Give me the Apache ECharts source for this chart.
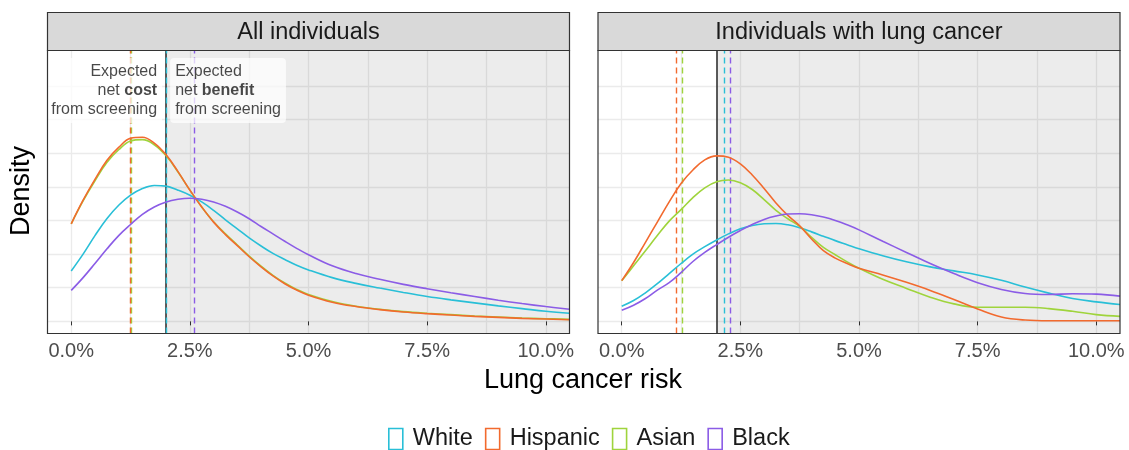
<!DOCTYPE html>
<html><head><meta charset="utf-8">
<script src="https://cdn.jsdelivr.net/npm/echarts@6/dist/echarts.min.js"></script>
<style>html,body{margin:0;padding:0;background:#fff}#c{width:1129px;height:450px}</style>
</head><body><div id="c"></div>
<script>
// ---- data ----
const panels = ['All individuals', 'Individuals with lung cancer'];
const groups = ['White', 'Hispanic', 'Asian', 'Black'];
const colors = ['#29bfd7', '#f26a2e', '#9fd43c', '#8b5ce6'];
const X = [0,0.25,0.5,0.75,1,1.25,1.5,1.75,2,2.25,2.5,2.75,3,3.25,3.5,3.75,4,4.25,4.5,4.75,5,5.5,6,6.5,7,7.5,8,8.5,9,9.5,10,10.5];
const allWhite    = [1.5,2.0,2.55,3.05,3.45,3.75,3.95,4.04,4.02,3.9,3.75,3.55,3.3,3.02,2.75,2.48,2.24,2.02,1.84,1.67,1.53,1.3,1.13,0.99,0.86,0.74,0.64,0.55,0.46,0.38,0.3,0.24];
const allHispanic = [2.9,3.6,4.22,4.78,5.17,5.44,5.47,5.3,4.95,4.45,3.9,3.4,2.95,2.58,2.25,1.92,1.62,1.35,1.12,0.93,0.78,0.57,0.44,0.35,0.28,0.23,0.19,0.15,0.12,0.09,0.07,0.05];
const allAsian    = [2.9,3.58,4.18,4.72,5.1,5.36,5.4,5.25,4.92,4.44,3.9,3.4,2.96,2.6,2.27,1.94,1.64,1.37,1.14,0.95,0.8,0.59,0.45,0.36,0.29,0.24,0.2,0.16,0.13,0.1,0.08,0.06];
const allBlack    = [0.92,1.3,1.72,2.15,2.55,2.88,3.18,3.4,3.55,3.63,3.66,3.63,3.55,3.42,3.25,3.05,2.82,2.6,2.38,2.17,1.98,1.65,1.42,1.25,1.1,0.97,0.85,0.74,0.63,0.53,0.44,0.36];
const lungWhite    = [0.45,0.62,0.85,1.12,1.42,1.72,2.0,2.22,2.42,2.6,2.75,2.85,2.9,2.91,2.87,2.78,2.66,2.53,2.4,2.28,2.16,1.95,1.77,1.62,1.5,1.38,1.22,1.02,0.84,0.68,0.58,0.5];
const lungHispanic = [1.21,1.75,2.35,2.95,3.55,4.1,4.5,4.8,4.92,4.88,4.68,4.35,3.95,3.52,3.15,2.84,2.45,2.1,1.88,1.72,1.58,1.38,1.16,0.92,0.65,0.37,0.13,0.04,0.02,0.02,0.02,0.02];
const lungAsian    = [1.21,1.65,2.1,2.55,2.98,3.32,3.68,3.97,4.15,4.2,4.12,3.92,3.62,3.3,3.05,2.82,2.5,2.2,1.98,1.77,1.58,1.25,0.98,0.72,0.52,0.42,0.42,0.42,0.38,0.3,0.2,0.15];
const lungBlack    = [0.33,0.48,0.68,0.93,1.15,1.45,1.78,2.05,2.28,2.5,2.7,2.88,3.03,3.13,3.19,3.2,3.17,3.1,3.0,2.87,2.72,2.38,2.05,1.72,1.42,1.15,0.95,0.83,0.8,0.82,0.81,0.75];
const allMeans  = [2.0, 1.25, 1.26, 2.59];
const lungMeans = [2.16, 1.14, 1.27, 2.29];
const threshold = 2.0;
const xTicks = [0, 2.5, 5, 7.5, 10];
const xTickLabels = ['0.0%', '2.5%', '5.0%', '7.5%', '10.0%'];
const xGridVals = [0, 1.25, 2.5, 3.75, 5, 6.25, 7.5, 8.75, 10];
const yGridVals = [0, 1, 2, 3, 4, 5, 6, 7];

const curves = [[allWhite, allHispanic, allAsian, allBlack], [lungWhite, lungHispanic, lungAsian, lungBlack]];
const means = [allMeans, lungMeans];

// ---- layout ----
const P = [{left: 47.5, width: 522}, {left: 598, width: 522}];
const TOP = 50.5, H = 283, STRIP_TOP = 12.5;
const FONT = '"Liberation Sans", Arial, Helvetica, sans-serif';

const chart = echarts.init(document.getElementById('c'), null, {renderer: 'canvas'});
const grids = [], xAxes = [], yAxes = [], series = [], graphics = [];
const noLine = {show: false};

P.forEach((p, g) => {
  grids.push({left: p.left, top: TOP, width: p.width, height: H, show: true, backgroundColor: '#fff', borderWidth: 0});
  xAxes.push({type: 'value', gridIndex: g, min: -0.5, max: 10.5,
    axisLine: {show: false}, splitLine: {show: false},
    axisTick: {show: true, customValues: xTicks, length: 4, lineStyle: {color: '#333', width: 1}},
    axisLabel: {show: true, customValues: xTicks, margin: 8, color: '#4d4d4d', fontSize: 20, fontFamily: FONT,
      formatter: v => xTickLabels[xTicks.indexOf(v)] || ''}});
  yAxes.push({type: 'value', gridIndex: g, min: -0.36, max: 8.05, show: false, splitLine: {show: false}});
  // gridlines
  series.push({type: 'line', xAxisIndex: g, yAxisIndex: g, data: [], z: 0, silent: true,
    markLine: {z: 0, silent: true, symbol: ['none', 'none'], animation: false, label: noLine, emphasis: {disabled: true},
      lineStyle: {color: '#ebebeb', width: 1.3, type: 'solid'},
      data: xGridVals.map(v => ({xAxis: v})).concat(yGridVals.map(v => ({yAxis: v})))}});
  // shaded benefit region
  series.push({type: 'line', xAxisIndex: g, yAxisIndex: g, data: [], z: 1, silent: true,
    markArea: {z: 1, silent: true, animation: false, itemStyle: {color: 'rgba(0,0,0,0.075)'}, emphasis: {disabled: true},
      data: [[{xAxis: threshold}, {xAxis: 10.5}]]}});
  // threshold
  series.push({type: 'line', xAxisIndex: g, yAxisIndex: g, data: [], z: 2, silent: true,
    markLine: {z: 2, silent: true, symbol: ['none', 'none'], animation: false, label: noLine, emphasis: {disabled: true},
      lineStyle: {color: '#333', width: 1.6, type: 'solid'}, data: [{xAxis: threshold}]}});
  // group means (draw order: Asian, Hispanic, Black, White)
  [2, 1, 3, 0].forEach(i => {
    series.push({type: 'line', xAxisIndex: g, yAxisIndex: g, data: [], z: 2, silent: true,
      markLine: {z: 2, silent: true, symbol: ['none', 'none'], animation: false, label: noLine, emphasis: {disabled: true},
        lineStyle: {color: colors[i], width: 1.4, type: [6, 4]}, data: [{xAxis: means[g][i]}]}});
  });
  // density curves
  [0, 2, 1, 3].forEach(i => {
    series.push({type: 'line', name: groups[i], xAxisIndex: g, yAxisIndex: g, z: 3,
      data: X.map((x, k) => [x, curves[g][i][k]]), smooth: 0.4, showSymbol: false, symbol: 'none',
      lineStyle: {color: colors[i], width: 1.6}, itemStyle: {color: colors[i]}, animation: false});
  });
  // strip
  graphics.push({type: 'rect', shape: {x: p.left, y: STRIP_TOP, width: p.width, height: TOP - STRIP_TOP},
    style: {fill: '#d9d9d9', stroke: '#333', lineWidth: 1.2}, z: 10});
  graphics.push({type: 'text', x: p.left + p.width / 2, y: (STRIP_TOP + TOP) / 2 + 1,
    style: {text: panels[g], fill: '#1a1a1a', font: '23.5px ' + FONT, textAlign: 'center', textVerticalAlign: 'middle'}, z: 11});
  // panel border
  graphics.push({type: 'rect', shape: {x: p.left, y: TOP, width: p.width, height: H},
    style: {fill: 'none', stroke: '#333', lineWidth: 1.2}, z: 10});
});

// annotations in first panel
const annotRich = {
  n: {fontSize: 16, fontFamily: FONT, color: '#1a1a1a', lineHeight: 19},
  b: {fontSize: 16, fontFamily: FONT, color: '#1a1a1a', lineHeight: 19, fontWeight: 'bold'}
};
series.push({type: 'scatter', xAxisIndex: 0, yAxisIndex: 0, z: 6, silent: true, symbolSize: 0, animation: false,
  data: [{value: [threshold, 6.86], label: {show: true, position: 'left', distance: 4, align: 'right',
      formatter: '{n|Expected}\n{n|net }{b|cost}\n{n|from screening}', rich: annotRich,
      backgroundColor: 'rgba(255,255,255,0.9)', padding: [4, 5, 4, 5], borderRadius: 4}},
    {value: [threshold, 6.86], label: {show: true, position: 'right', distance: 4, align: 'left',
      formatter: '{n|Expected}\n{n|net }{b|benefit}\n{n|from screening}', rich: annotRich,
      backgroundColor: 'rgba(255,255,255,0.9)', padding: [4, 5, 4, 5], borderRadius: 4}}]});

graphics.push({type: 'text', x: 583, y: 381, style: {text: 'Lung cancer risk', fill: '#000', font: '27px ' + FONT, textAlign: 'center', textVerticalAlign: 'middle'}});
graphics.push({type: 'text', x: 22, y: 191, rotation: Math.PI / 2, style: {text: 'Density', fill: '#000', font: '27px ' + FONT, textAlign: 'center', textVerticalAlign: 'middle'}});

chart.setOption({
  animation: false,
  grid: grids, xAxis: xAxes, yAxis: yAxes, series: series, graphic: graphics,
  legend: {left: 383, top: 422, icon: 'rect', itemWidth: 14, itemHeight: 21, itemGap: 12,
    textStyle: {fontSize: 23.5, fontFamily: FONT, color: '#1a1a1a', padding: [0, 0, 0, 5]},
    data: groups.map((n, i) => ({name: n, itemStyle: {color: 'rgba(0,0,0,0)', borderColor: colors[i], borderWidth: 1.6}}))}
});
</script></body></html>
